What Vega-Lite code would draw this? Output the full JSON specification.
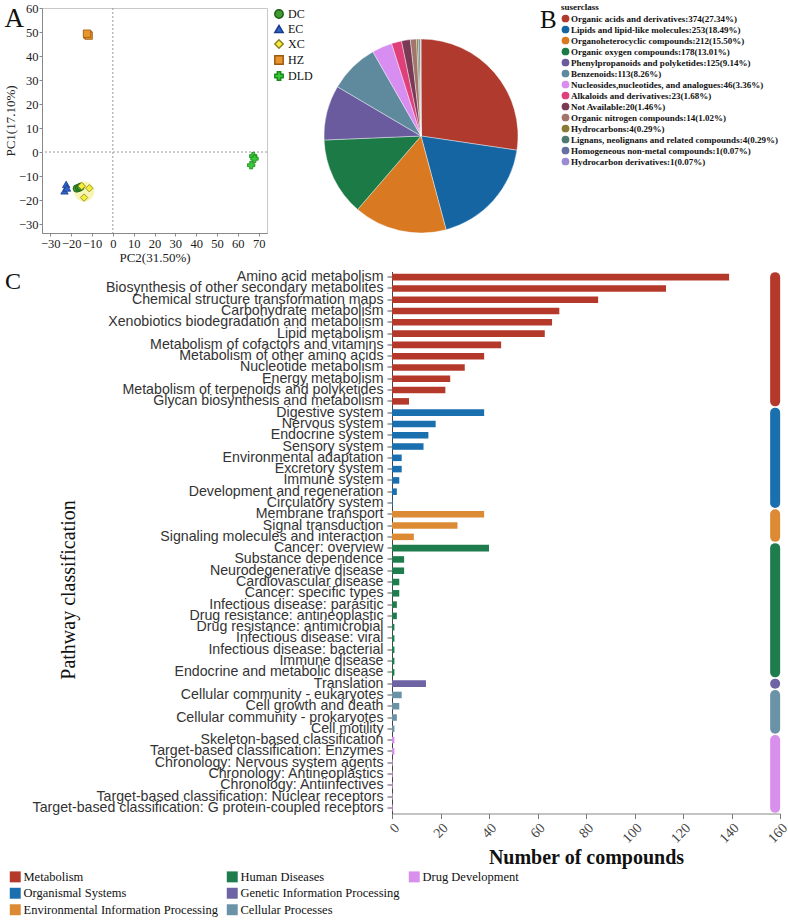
{
  "$schema": "https://vega.github.io/schema/vega-lite/v6.json",
  "background": "white",
  "padding": {"left": 3, "top": 1, "right": 0, "bottom": 0},
  "config": {
    "view": {"stroke": null},
    "font": "Liberation Serif",
    "axis": {"labelOverlap": false},
    "title": {"font": "Liberation Serif", "fontWeight": "normal", "color": "#111"}
  },
  "resolve": {
    "scale": {"color": "independent", "fill": "independent", "stroke": "independent", "shape": "independent", "x": "independent", "y": "independent"},
    "legend": {"color": "independent", "fill": "independent", "stroke": "independent", "shape": "independent"}
  },
  "datasets": {
    "pca": [
      {"group": "DC", "pc2": -17.3, "pc1": -15.2},
      {"group": "DC", "pc2": -16.2, "pc1": -14.9},
      {"group": "DC", "pc2": -15.5, "pc1": -14.5},
      {"group": "EC", "pc2": -22.4, "pc1": -13.5},
      {"group": "EC", "pc2": -23.2, "pc1": -16.2},
      {"group": "EC", "pc2": -22.0, "pc1": -15.0},
      {"group": "XC", "pc2": -14.9, "pc1": -14.2},
      {"group": "XC", "pc2": -11.3, "pc1": -15.1},
      {"group": "XC", "pc2": -13.8, "pc1": -19.0},
      {"group": "HZ", "pc2": -12.1, "pc1": 48.8},
      {"group": "HZ", "pc2": -11.6, "pc1": 48.5},
      {"group": "HZ", "pc2": -12.4, "pc1": 49.3},
      {"group": "DLD", "pc2": 67.4, "pc1": -1.7},
      {"group": "DLD", "pc2": 68.0, "pc1": -2.8},
      {"group": "DLD", "pc2": 66.4, "pc1": -5.5}
    ],
    "ellipse": [{"group": "XC", "pc2": -13.8, "pc1": -16.5}],
    "superclass": [
      {"label": "Organic acids and derivatives:374(27.34%)", "n": 374},
      {"label": "Lipids and lipid-like molecules:253(18.49%)", "n": 253},
      {"label": "Organoheterocyclic compounds:212(15.50%)", "n": 212},
      {"label": "Organic oxygen compounds:178(13.01%)", "n": 178},
      {"label": "Phenylpropanoids and polyketides:125(9.14%)", "n": 125},
      {"label": "Benzenoids:113(8.26%)", "n": 113},
      {"label": "Nucleosides,nucleotides, and analogues:46(3.36%)", "n": 46},
      {"label": "Alkaloids and derivatives:23(1.68%)", "n": 23},
      {"label": "Not Available:20(1.46%)", "n": 20},
      {"label": "Organic nitrogen compounds:14(1.02%)", "n": 14},
      {"label": "Hydrocarbons:4(0.29%)", "n": 4},
      {"label": "Lignans, neolignans and related compounds:4(0.29%)", "n": 4},
      {"label": "Homogeneous non-metal compounds:1(0.07%)", "n": 1},
      {"label": "Hydrocarbon derivatives:1(0.07%)", "n": 1}
    ],
    "pathways": [
      {"pathway": "Amino acid metabolism", "class": "Metabolism", "count": 139},
      {"pathway": "Biosynthesis of other secondary metabolites", "class": "Metabolism", "count": 113},
      {"pathway": "Chemical structure transformation maps", "class": "Metabolism", "count": 85},
      {"pathway": "Carbohydrate metabolism", "class": "Metabolism", "count": 69},
      {"pathway": "Xenobiotics biodegradation and metabolism", "class": "Metabolism", "count": 66},
      {"pathway": "Lipid metabolism", "class": "Metabolism", "count": 63},
      {"pathway": "Metabolism of cofactors and vitamins", "class": "Metabolism", "count": 45},
      {"pathway": "Metabolism of other amino acids", "class": "Metabolism", "count": 38},
      {"pathway": "Nucleotide metabolism", "class": "Metabolism", "count": 30},
      {"pathway": "Energy metabolism", "class": "Metabolism", "count": 24},
      {"pathway": "Metabolism of terpenoids and polyketides", "class": "Metabolism", "count": 22},
      {"pathway": "Glycan biosynthesis and metabolism", "class": "Metabolism", "count": 7},
      {"pathway": "Digestive system", "class": "Organismal Systems", "count": 38},
      {"pathway": "Nervous system", "class": "Organismal Systems", "count": 18},
      {"pathway": "Endocrine system", "class": "Organismal Systems", "count": 15},
      {"pathway": "Sensory system", "class": "Organismal Systems", "count": 13},
      {"pathway": "Environmental adaptation", "class": "Organismal Systems", "count": 4},
      {"pathway": "Excretory system", "class": "Organismal Systems", "count": 4},
      {"pathway": "Immune system", "class": "Organismal Systems", "count": 3},
      {"pathway": "Development and regeneration", "class": "Organismal Systems", "count": 2},
      {"pathway": "Circulatory system", "class": "Organismal Systems", "count": 0.4},
      {"pathway": "Membrane transport", "class": "Environmental Information Processing", "count": 38},
      {"pathway": "Signal transduction", "class": "Environmental Information Processing", "count": 27},
      {"pathway": "Signaling molecules and interaction", "class": "Environmental Information Processing", "count": 9},
      {"pathway": "Cancer: overview", "class": "Human Diseases", "count": 40},
      {"pathway": "Substance dependence", "class": "Human Diseases", "count": 5},
      {"pathway": "Neurodegenerative disease", "class": "Human Diseases", "count": 5},
      {"pathway": "Cardiovascular disease", "class": "Human Diseases", "count": 3},
      {"pathway": "Cancer: specific types", "class": "Human Diseases", "count": 3},
      {"pathway": "Infectious disease: parasitic", "class": "Human Diseases", "count": 2},
      {"pathway": "Drug resistance: antineoplastic", "class": "Human Diseases", "count": 2},
      {"pathway": "Drug resistance: antimicrobial", "class": "Human Diseases", "count": 1},
      {"pathway": "Infectious disease: viral", "class": "Human Diseases", "count": 1},
      {"pathway": "Infectious disease: bacterial", "class": "Human Diseases", "count": 1},
      {"pathway": "Immune disease", "class": "Human Diseases", "count": 1},
      {"pathway": "Endocrine and metabolic disease", "class": "Human Diseases", "count": 1},
      {"pathway": "Translation", "class": "Genetic Information Processing", "count": 14},
      {"pathway": "Cellular community - eukaryotes", "class": "Cellular Processes", "count": 4},
      {"pathway": "Cell growth and death", "class": "Cellular Processes", "count": 3},
      {"pathway": "Cellular community - prokaryotes", "class": "Cellular Processes", "count": 2},
      {"pathway": "Cell motility", "class": "Cellular Processes", "count": 1},
      {"pathway": "Skeleton-based classification", "class": "Drug Development", "count": 1},
      {"pathway": "Target-based classification: Enzymes", "class": "Drug Development", "count": 1},
      {"pathway": "Chronology: Nervous system agents", "class": "Drug Development", "count": 0.3},
      {"pathway": "Chronology: Antineoplastics", "class": "Drug Development", "count": 0.3},
      {"pathway": "Chronology: Antiinfectives", "class": "Drug Development", "count": 0.3},
      {"pathway": "Target-based classification: Nuclear receptors", "class": "Drug Development", "count": 0.3},
      {"pathway": "Target-based classification: G protein-coupled receptors", "class": "Drug Development", "count": 0.3}
    ],
    "groups": [
      {"class": "Metabolism", "first": "Amino acid metabolism", "last": "Glycan biosynthesis and metabolism"},
      {"class": "Organismal Systems", "first": "Digestive system", "last": "Circulatory system"},
      {"class": "Environmental Information Processing", "first": "Membrane transport", "last": "Signaling molecules and interaction"},
      {"class": "Human Diseases", "first": "Cancer: overview", "last": "Endocrine and metabolic disease"},
      {"class": "Genetic Information Processing", "first": "Translation", "last": "Translation"},
      {"class": "Cellular Processes", "first": "Cellular community - eukaryotes", "last": "Cell motility"},
      {"class": "Drug Development", "first": "Skeleton-based classification", "last": "Target-based classification: G protein-coupled receptors"}
    ]
  },
  "spacing": 125,
  "bounds": "flush",
  "hconcat": [
    {
      "width": 225,
      "height": 225,
      "view": {"stroke": "#c8c8c8"},
      "title": {"text": "A", "anchor": "start", "frame": "bounds", "fontSize": 27, "offset": 0, "dy": 31},
      "layer": [
        {
          "data": {"name": "ellipse"},
          "mark": {"type": "point", "shape": "circle", "filled": true, "size": 420, "color": "#f6f3a8", "opacity": 0.85},
          "encoding": {
            "x": {"field": "pc2", "type": "quantitative", "title": "PC2(31.50%)",
              "scale": {"domain": [-34, 74], "nice": false, "zero": false},
              "axis": {"values": [-30, -20, -10, 0, 10, 20, 30, 40, 50, 60, 70], "tickCount": 30, "grid": false, "labelFont": "Liberation Serif", "labelFontSize": 12.5, "labelColor": "#222", "tickColor": "#888", "domainColor": "#888", "tickSize": 3, "labelPadding": 1, "labelFlush": false, "labelOverlap": false, "labelSeparation": 0, "titleFont": "Liberation Serif", "titleFontSize": 13, "titleFontWeight": "normal", "titleColor": "#222", "titlePadding": 2}},
            "y": {"field": "pc1", "type": "quantitative", "title": "PC1(17.10%)",
              "scale": {"domain": [-33.75, 60], "nice": false, "zero": false},
              "axis": {"values": [-30, -20, -10, 0, 10, 20, 30, 40, 50, 60], "tickCount": 30, "grid": false, "labelFont": "Liberation Serif", "labelFontSize": 12.5, "labelColor": "#222", "tickColor": "#888", "domainColor": "#888", "tickSize": 3, "labelPadding": 1, "labelFlush": false, "labelOverlap": false, "labelSeparation": 0, "titleFont": "Liberation Serif", "titleFontSize": 13, "titleFontWeight": "normal", "titleColor": "#222", "titlePadding": 1}}
          }
        },
        {
          "data": {"values": [{}]},
          "mark": {"type": "rule", "strokeDash": [2, 2], "color": "#9a9a9a", "strokeWidth": 1},
          "encoding": {"x": {"datum": 0}}
        },
        {
          "data": {"values": [{}]},
          "mark": {"type": "rule", "strokeDash": [2, 2], "color": "#9a9a9a", "strokeWidth": 1},
          "encoding": {"y": {"datum": 0}}
        },
        {
          "data": {"name": "pca"},
          "mark": {"type": "point", "filled": true, "size": 55, "strokeWidth": 0.8, "opacity": 1},
          "encoding": {
            "x": {"field": "pc2", "type": "quantitative", "title": "PC2(31.50%)"},
            "y": {"field": "pc1", "type": "quantitative", "title": "PC1(17.10%)"},
            "fill": {"field": "group", "type": "nominal", "title": null,
              "scale": {"domain": ["DC", "EC", "XC", "HZ", "DLD"], "range": ["#3f9a2f", "#2f64c8", "#f4ee3a", "#e8952e", "#38c838"]},
              "legend": {"orient": "right", "offset": 6, "title": null, "labelFont": "Liberation Serif", "labelFontSize": 12, "labelColor": "#111", "symbolSize": 70, "rowPadding": 0, "labelOffset": 3}},
            "stroke": {"field": "group", "type": "nominal", "title": null,
              "scale": {"domain": ["DC", "EC", "XC", "HZ", "DLD"], "range": ["#1d5a14", "#1a3a8a", "#8a8020", "#9a5a10", "#1a8a1a"]}},
            "shape": {"field": "group", "type": "nominal", "title": null,
              "scale": {"domain": ["DC", "EC", "XC", "HZ", "DLD"], "range": ["circle", "triangle-up", "diamond", "square", "cross"]}}
          }
        }
      ]
    },
    {
      "spacing": 7.5,
      "bounds": "flush",
      "resolve": {"scale": {"color": "independent", "x": "independent", "y": "independent"}, "legend": {"color": "independent"}},
      "vconcat": [
        {
          "width": 58,
          "height": 256,
          "data": {"name": "superclass"},
          "title": {"text": "B", "anchor": "start", "frame": "group", "dx": 148, "offset": 0, "dy": 30, "fontSize": 25},
          "mark": {"type": "arc", "outerRadius": 97, "stroke": "#ffffff", "strokeWidth": 0.4},
          "encoding": {
            "theta": {"field": "n", "type": "quantitative", "stack": true},
            "order": {"field": "n", "type": "quantitative", "sort": "descending"},
            "color": {"field": "label", "type": "nominal", "sort": null, "title": "suserclass",
              "scale": {
                "domain": ["Organic acids and derivatives:374(27.34%)", "Lipids and lipid-like molecules:253(18.49%)", "Organoheterocyclic compounds:212(15.50%)", "Organic oxygen compounds:178(13.01%)", "Phenylpropanoids and polyketides:125(9.14%)", "Benzenoids:113(8.26%)", "Nucleosides,nucleotides, and analogues:46(3.36%)", "Alkaloids and derivatives:23(1.68%)", "Not Available:20(1.46%)", "Organic nitrogen compounds:14(1.02%)", "Hydrocarbons:4(0.29%)", "Lignans, neolignans and related compounds:4(0.29%)", "Homogeneous non-metal compounds:1(0.07%)", "Hydrocarbon derivatives:1(0.07%)"],
                "range": ["#b03a2e", "#1565a3", "#d97a22", "#1b7a45", "#6a5b9e", "#5f8a9e", "#d78ef0", "#e0407a", "#7a3a56", "#a0756c", "#8a7a38", "#4e7874", "#6670a0", "#9b8bd6"]
              },
              "legend": {"orient": "none", "legendX": 169, "legendY": -5, "titleFont": "Liberation Serif", "titleFontSize": 9, "titleFontWeight": "bold", "titleColor": "#111", "titlePadding": 2, "labelFont": "Liberation Serif", "labelFontSize": 9, "labelFontWeight": "bold", "labelColor": "#111", "labelLimit": 400, "symbolType": "circle", "symbolSize": 60, "symbolStrokeWidth": 0, "rowPadding": 1, "labelOffset": 1}
            }
          }
        },
        {
          "width": 388,
          "height": 542,
          "title": {"text": "C", "anchor": "start", "frame": "bounds", "fontSize": 24, "offset": 0, "dy": 24, "dx": -4},
          "layer": [
            {
              "data": {"name": "pathways"},
              "mark": {"type": "bar"},
              "encoding": {
                "y": {"field": "pathway", "type": "nominal", "sort": null, "title": "Pathway classification",
                  "scale": {"paddingInner": 0.42, "paddingOuter": 0.21},
                  "axis": {"labelFont": "Liberation Sans", "labelFontSize": 14.2, "labelColor": "#333", "labelLimit": 500, "tickColor": "#555", "tickSize": 5, "domainColor": "#444", "labelPadding": 4, "titleFont": "Liberation Serif", "titleFontSize": 20, "titleFontWeight": "normal", "titleColor": "#111", "titleX": -324, "titleY": 318, "titleAngle": 270, "titleAlign": "center", "titleBaseline": "middle"}},
                "x": {"field": "count", "type": "quantitative", "title": "Number of compounds",
                  "scale": {"domain": [0, 160], "nice": false},
                  "axis": {"values": [0, 20, 40, 60, 80, 100, 120, 140, 160], "tickCount": 30, "grid": false, "labelAngle": -45, "labelFont": "Liberation Serif", "labelFontSize": 14, "labelColor": "#444", "tickColor": "#777", "tickSize": 5, "domainColor": "#888", "labelPadding": 2, "labelFlush": false, "labelOverlap": false, "titleFont": "Liberation Serif", "titleFontSize": 20, "titleFontWeight": "bold", "titleColor": "#111", "titlePadding": 2}},
                "color": {"field": "class", "type": "nominal", "title": null,
                  "scale": {
                    "domain": ["Metabolism", "Organismal Systems", "Environmental Information Processing", "Human Diseases", "Genetic Information Processing", "Cellular Processes", "Drug Development", " "],
                    "range": ["#b5392b", "#1a6fae", "#dc8a34", "#1f7d4d", "#6e63a3", "#6b93a7", "#d890ec", "rgba(255,255,255,0)"]
                  },
                  "legend": {"orient": "none", "legendX": -383, "legendY": 599, "columns": 3, "title": null, "symbolType": "square", "symbolSize": 120, "symbolStrokeWidth": 0, "labelFont": "Liberation Serif", "labelFontSize": 12.5, "labelColor": "#111", "labelLimit": 400, "rowPadding": 3.5, "columnPadding": 8, "labelOffset": 2}}
              }
            },
            {
              "data": {"name": "groups"},
              "mark": {"type": "rule", "strokeWidth": 10, "strokeCap": "round"},
              "encoding": {
                "x": {"datum": 158},
                "y": {"field": "first", "type": "nominal", "sort": null},
                "y2": {"field": "last"},
                "color": {"field": "class", "type": "nominal"}
              }
            }
          ]
        }
      ]
    }
  ]
}
